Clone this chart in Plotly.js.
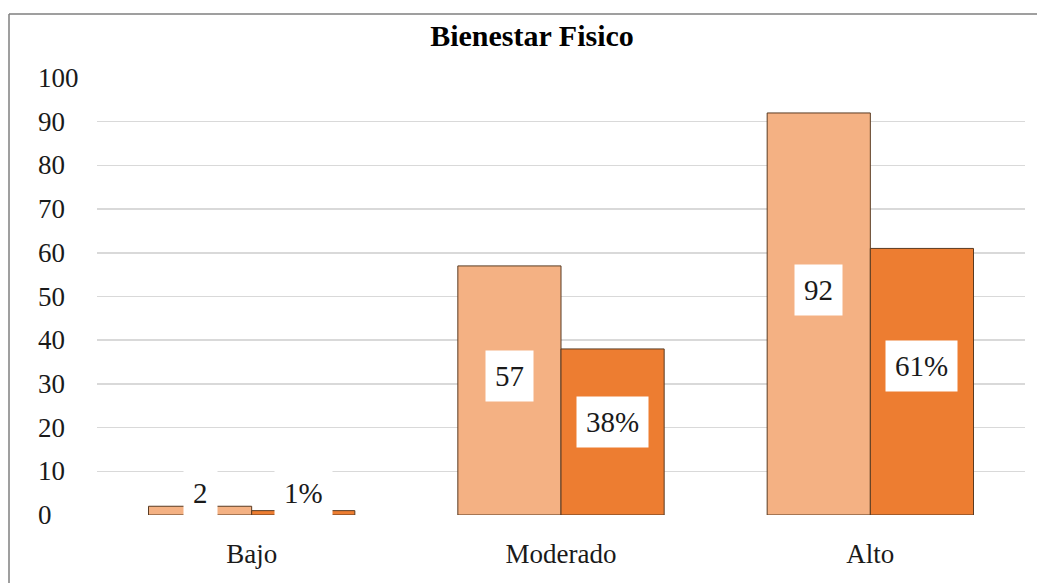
<!DOCTYPE html>
<html>
<head>
<meta charset="utf-8">
<script src="https://cdn.plot.ly/plotly-3.0.1.min.js"></script>
<style>html,body{margin:0;padding:0;background:#fff;}#chart{width:1037px;height:583px;}</style>
</head>
<body>
<div id="chart"></div>
<script>
var categories = ["Bajo", "Moderado", "Alto"];
var counts = [2, 57, 92];
var percents = [1, 38, 61];
var countLabels = ["2", "57", "92"];
var percentLabels = ["1%", "38%", "61%"];
var yTicks = [0, 10, 20, 30, 40, 50, 60, 70, 80, 90, 100];
var yTickLabels = ["0", "10", "20", "30", "40", "50", "60", "70", "80", "90", "100"];
var titleText = "Bienestar Fisico";

var serif = "Liberation Serif";
var W = 1037, H = 583;
var mL = 97, mR = 12, mT = 78, mB = 68;
var pw = W - mL - mR, ph = H - mT - mB;
function px2x(p) { return (p - mL) / pw; }
function py2y(p) { return (H - mB - p) / ph; }

var traces = [
  { type: "bar", x: categories, y: counts, name: "n",
    marker: { color: "#F4B183", line: { color: "#5a3b22", width: 1 } },
    hoverinfo: "none" },
  { type: "bar", x: categories, y: percents, name: "%",
    marker: { color: "#ED7D31", line: { color: "#5a3b22", width: 1 } },
    hoverinfo: "none" }
];

var annotations = [];
function labelY(v) { return Math.max(v * 0.56, 5); }
categories.forEach(function (c, i) {
  [[counts, countLabels, -0.5], [percents, percentLabels, 0.5]].forEach(function (s) {
    annotations.push({
      x: i + s[2] / 1.5 * 0.5, xref: "x", y: labelY(s[0][i]), yref: "y",
      text: s[1][i], showarrow: false,
      font: { family: serif, size: 29, color: "#1a1a1a" },
      bgcolor: "#ffffff", borderpad: 9, xanchor: "center", yanchor: "middle"
    });
  });
});
yTicks.forEach(function (t, i) {
  annotations.push({
    x: px2x(36), xref: "paper", y: t, yref: "y", text: yTickLabels[i],
    showarrow: false, xanchor: "left", yanchor: "middle",
    font: { family: serif, size: 27, color: "#1a1a1a" }
  });
});

var layout = {
  width: W, height: H,
  margin: { l: mL, r: mR, t: mT, b: mB, pad: 0 },
  paper_bgcolor: "#ffffff", plot_bgcolor: "#ffffff",
  showlegend: false,
  font: { family: serif },
  barmode: "group", bargap: 0.333, bargroupgap: 0,
  title: { text: "<b>" + titleText + "</b>", x: 532 / W, xanchor: "center",
           y: 1 - 35 / H, yanchor: "middle",
           font: { family: serif, size: 30, color: "#000000" } },
  xaxis: { type: "category", showgrid: false, zeroline: false, showline: false,
           ticks: "", ticklabelstandoff: 20,
           tickfont: { family: serif, size: 27, color: "#1a1a1a" } },
  yaxis: { range: [0, 100], tickvals: yTicks, showticklabels: false,
           showgrid: true, gridcolor: "#d9d9d9", gridwidth: 1.5,
           zeroline: false, showline: false, ticks: "" },
  annotations: annotations,
  shapes: [
    { type: "line", xref: "paper", yref: "paper", x0: px2x(9), x1: px2x(9),
      y0: py2y(14), y1: py2y(H + 2), line: { color: "#7f7f7f", width: 1.5 } },
    { type: "line", xref: "paper", yref: "paper", x0: px2x(9), x1: px2x(W + 2),
      y0: py2y(14), y1: py2y(14), line: { color: "#7f7f7f", width: 1.5 } }
  ]
};

Plotly.newPlot("chart", traces, layout, { staticPlot: true, displayModeBar: false });
</script>
</body>
</html>
